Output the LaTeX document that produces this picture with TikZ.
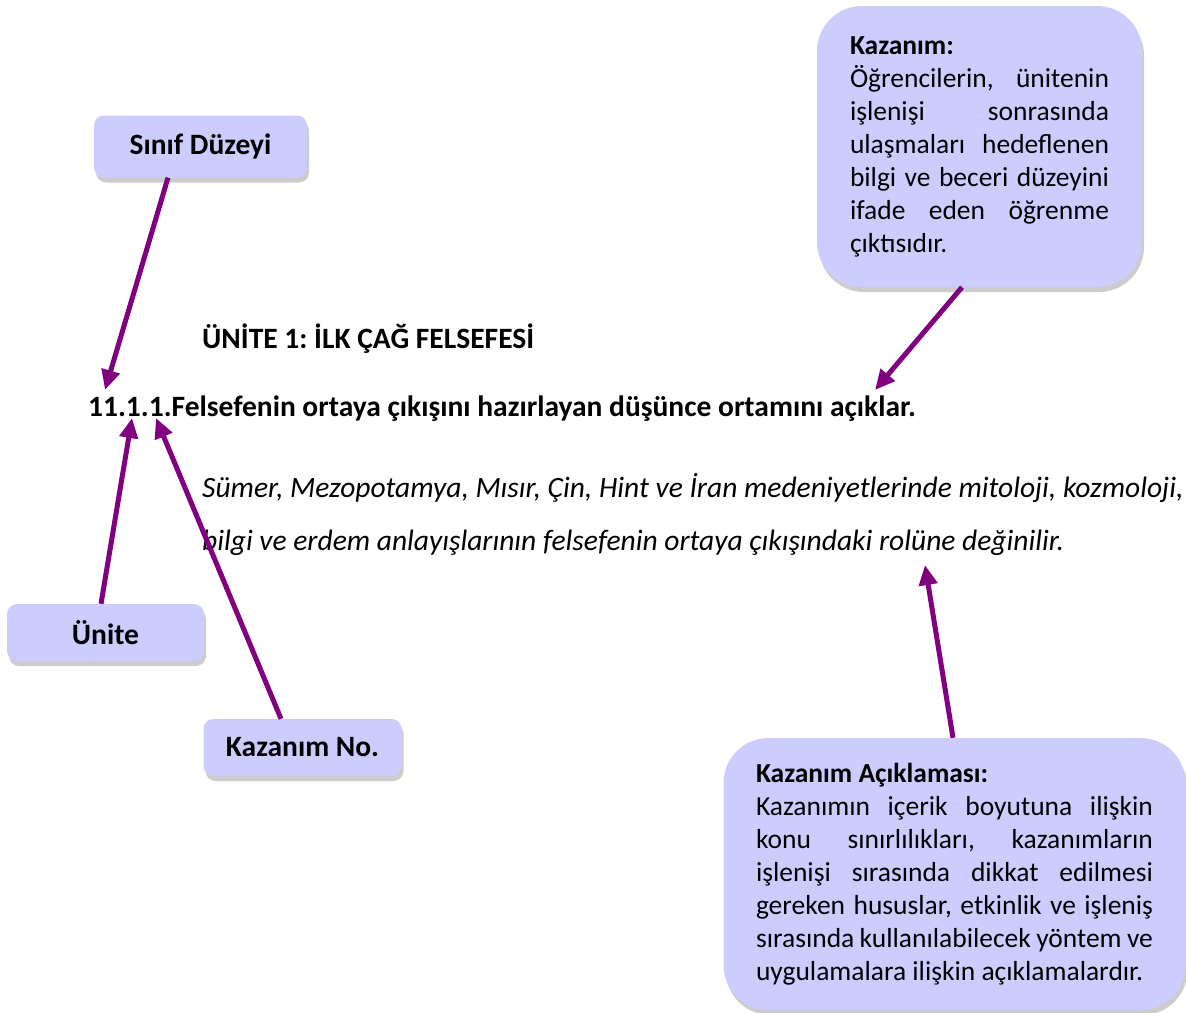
\documentclass[tikz,border=0pt]{standalone}
\usepackage{fontspec}
\setmainfont{Carlito}
\usetikzlibrary{arrows.meta,shadows}
\definecolor{boxfill}{HTML}{CCCCFF}
\definecolor{arrowc}{HTML}{800080}
\hyphenpenalty=10000
\exhyphenpenalty=10000
\hbadness=10000
\frenchspacing
\begin{document}
\begin{tikzpicture}[x=1pt,y=-1pt,
  shade/.style={drop shadow={shadow xshift=2pt, shadow yshift=-5pt, fill=black!20, opacity=1}},
  lab/.style={rectangle, rounded corners=10pt, fill=boxfill, shade, inner sep=0pt,
    font=\fontsize{29.5}{33}\selectfont\bfseries},
  big/.style={rectangle, rounded corners=45pt, fill=boxfill, shade, inner sep=0pt,
    align=justify, font=\fontsize{27.5}{33}\selectfont},
  arr/.style={draw=arrowc, line width=5pt, -{Triangle[length=20pt,width=18pt]}},
  txt/.style={anchor=base west, inner sep=0pt},
  btxt/.style={txt, font=\fontsize{29.5}{33}\selectfont\bfseries},
  itxt/.style={txt, font=\fontsize{29.5}{33}\selectfont\itshape}
]
\useasboundingbox (0,0) rectangle (1186,1012);

\node[lab, minimum width=213pt, minimum height=62pt] (sinif) at (200.5,146.5) {Sınıf Düzeyi};
\node[lab, minimum width=197pt, minimum height=57pt] (unite) at (105.5,632.5) {Ünite};
\node[lab, minimum width=198pt, minimum height=57pt] (kno) at (302.5,747.5) {Kazanım No.};

\node[big, minimum width=325pt, minimum height=281pt, text width=259pt] (kaz) at (979.5,146.5)
 {\textbf{Kazanım:}\par
 Öğrencilerin, ünitenin\linebreak
 işlenişi sonrasında\linebreak
 ulaşmaları hedeflenen\linebreak
 bilgi ve beceri düzeyini\linebreak
 ifade eden öğrenme\linebreak
 çıktısıdır.};

\node[big, minimum width=462pt, minimum height=272pt, text width=397pt] (acik) at (954.5,874)
 {\textbf{Kazanım Açıklaması:}\par
 Kazanımın içerik boyutuna ilişkin\linebreak
 konu sınırlılıkları, kazanımların\linebreak
 işlenişi sırasında dikkat edilmesi\linebreak
 gereken hususlar, etkinlik ve işleniş\linebreak
 sırasında kullanılabilecek yöntem ve\linebreak
 uygulamalara ilişkin açıklamalardır.};

\node[btxt] (title) at (202,348) {ÜNİTE 1: İLK ÇAĞ FELSEFESİ};
\node[btxt] (kline) at (88,416) {11.1.1.Felsefenin ortaya çıkışını hazırlayan düşünce ortamını açıklar.};
\node[itxt] (exp1) at (202,497) {Sümer, Mezopotamya, Mısır, Çin, Hint ve İran medeniyetlerinde mitoloji, kozmoloji,};
\node[itxt] (exp2) at (202,550) {bilgi ve erdem anlayışlarının felsefenin ortaya çıkışındaki rolüne değinilir.};

\coordinate (t1) at (105,390);
\coordinate (t2) at (132,418);
\coordinate (t3) at (156,418);
\coordinate (t4) at (875,390);
\coordinate (t5) at (925,565);

\draw[arr] ([xshift=-32.5pt]sinif.south) -- (t1);
\draw[arr] ([xshift=-4.5pt]unite.north) -- (t2);
\draw[arr] ([xshift=-21.5pt]kno.north) -- (t3);
\draw[arr] ([xshift=-17.5pt]kaz.south) -- (t4);
\draw[arr] ([xshift=-1.5pt]acik.north) -- (t5);
\end{tikzpicture}
\end{document}
